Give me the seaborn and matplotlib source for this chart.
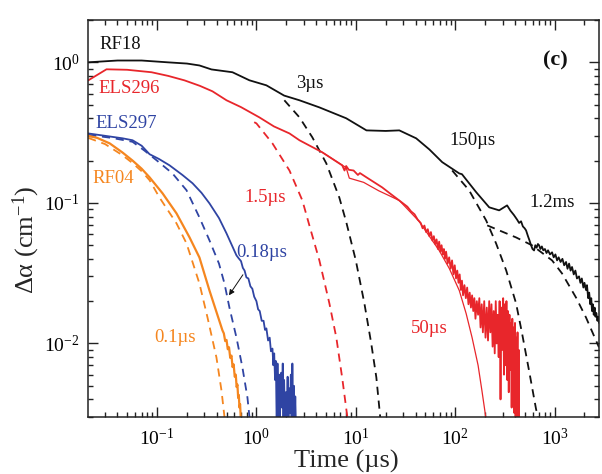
import matplotlib
matplotlib.use("Agg")
import matplotlib.pyplot as plt
import seaborn as sns

# ---------------- measured transient absorption data ----------------
rf18_t = [0.0203, 0.04, 0.07, 0.128, 0.2, 0.267, 0.353, 0.574, 0.85, 1.26, 1.9, 2.71,
          4.3, 8.0, 12.8, 20, 27.4, 40.5, 55, 74, 110, 117, 163, 220, 277, 333, 360, 390,
          420, 440, 460, 480, 500, 517, 540, 560, 580, 600, 622, 640, 660, 680, 699, 720,
          745, 770, 800, 830, 860, 900, 944, 980, 1020, 1060, 1100, 1150, 1200, 1250,
          1306, 1350, 1400, 1450, 1500, 1560, 1620, 1680, 1763, 1820, 1880, 1950, 2000,
          2073, 2120, 2180, 2230, 2290, 2340, 2381, 2430, 2480, 2530, 2580, 2630, 2700,
          2750, 2800]
rf18_a = [1.0, 1.03, 1.03, 1.0, 0.98, 0.95, 0.89, 0.85, 0.745, 0.686, 0.58, 0.537,
          0.478, 0.40, 0.328, 0.325, 0.328, 0.288, 0.24, 0.195, 0.162, 0.160, 0.119, 0.093,
          0.0885, 0.096, 0.088, 0.082, 0.076, 0.072, 0.074, 0.068, 0.066, 0.0637, 0.058,
          0.054, 0.050, 0.047, 0.0459, 0.050, 0.048, 0.051, 0.0499, 0.047, 0.049, 0.046,
          0.047, 0.044, 0.046, 0.043, 0.0445, 0.041, 0.043, 0.039, 0.041, 0.038, 0.040,
          0.036, 0.038, 0.034, 0.037, 0.033, 0.035, 0.031, 0.033, 0.029, 0.030, 0.027,
          0.029, 0.025, 0.027, 0.024, 0.026, 0.021, 0.023, 0.019, 0.021, 0.017, 0.019,
          0.016, 0.018, 0.0155, 0.0165, 0.0145, 0.0155, 0.0140]

els296_t = [0.0203, 0.031, 0.05, 0.088, 0.13, 0.189, 0.27, 0.361, 0.5, 0.7, 1.07, 1.5,
            2.15, 2.71, 3.41, 4.6, 7.3, 7.7, 8.0, 8.5, 9.5, 10.5, 11.0, 12.8, 18.4, 22, 27.4,
            30, 33, 36, 39, 42, 45, 47, 49, 51, 53, 55, 57, 59, 61, 63, 65, 67, 69, 71, 73,
            75, 77, 79, 81, 84, 87, 90, 93, 96, 99, 102, 105, 108, 111, 114, 117, 120, 124,
            128, 132, 136, 140, 144, 148, 152, 156, 160, 165, 170, 175, 180, 185, 190, 196,
            202, 208, 214, 220, 226, 232, 238, 244, 250, 256, 262, 268, 274, 280, 286, 292,
            298, 304, 310, 316, 322, 328, 334, 340, 346, 352, 358, 364, 370, 376, 382, 388,
            394, 400, 406, 412, 418, 424, 430, 436, 440]
els296_a = [0.744, 0.892, 0.885, 0.85, 0.80, 0.744, 0.68, 0.622, 0.537, 0.48, 0.406, 0.35,
            0.312, 0.279, 0.256, 0.229, 0.185, 0.170, 0.183, 0.172, 0.170, 0.158, 0.163, 0.152,
            0.129, 0.117, 0.104, 0.099, 0.094, 0.087, 0.083, 0.076, 0.072, 0.066, 0.069,
            0.062, 0.065, 0.058, 0.062, 0.054, 0.058, 0.051, 0.055, 0.047, 0.053, 0.045,
            0.050, 0.043, 0.047, 0.040, 0.045, 0.037, 0.041, 0.034, 0.039, 0.031, 0.036,
            0.029, 0.033, 0.027, 0.031, 0.024, 0.028, 0.022, 0.026, 0.021, 0.025, 0.019,
            0.023, 0.018, 0.022, 0.017, 0.021, 0.015, 0.020, 0.016, 0.021, 0.013, 0.019,
            0.012, 0.020, 0.011, 0.018, 0.0105, 0.020, 0.012, 0.019, 0.0095, 0.017, 0.0085,
            0.020, 0.010, 0.016, 0.0080, 0.020, 0.0040, 0.018, 0.0090, 0.021, 0.0060, 0.019,
            0.0070, 0.020, 0.0055, 0.017, 0.0045, 0.016, 0.0065, 0.014, 0.0035, 0.015,
            0.0050, 0.013, 0.0032, 0.014, 0.0025, 0.011, 0.0040, 0.012, 0.0020, 0.009, 0.0020]

els297_t = [0.0203, 0.03, 0.045, 0.0567, 0.07, 0.0841, 0.105, 0.1336, 0.18, 0.2275, 0.28,
            0.337, 0.42, 0.5, 0.63, 0.66, 0.70, 0.73, 0.76, 0.793, 0.83, 0.87, 0.91, 0.95,
            1.0, 1.04, 1.08, 1.13, 1.18, 1.22, 1.26, 1.31, 1.36, 1.40, 1.45, 1.48, 1.51,
            1.54, 1.57, 1.60, 1.63, 1.66, 1.69, 1.72, 1.75, 1.78, 1.81, 1.84, 1.87, 1.90,
            1.94, 1.98, 2.02, 2.06, 2.10, 2.14, 2.18, 2.22, 2.26, 2.30, 2.34, 2.38, 2.42,
            2.46, 2.50]
els297_a = [0.312, 0.30, 0.288, 0.279, 0.255, 0.222, 0.205, 0.185, 0.158, 0.138, 0.118,
            0.0992, 0.078, 0.0607, 0.0423, 0.0405, 0.0385, 0.0345, 0.0330, 0.0295, 0.0290,
            0.0255, 0.0245, 0.0215, 0.0200, 0.0175, 0.0170, 0.0145, 0.0145, 0.0125, 0.0128,
            0.0105, 0.0110, 0.0088, 0.0092, 0.0070, 0.0085, 0.0055, 0.0075, 0.0025, 0.0072,
            0.0030, 0.0060, 0.0025, 0.0050, 0.0062, 0.0035, 0.0072, 0.0028, 0.0055, 0.0025,
            0.0045, 0.0030, 0.0058, 0.0025, 0.0048, 0.0032, 0.0060, 0.0025, 0.0072, 0.0030,
            0.0050, 0.0025, 0.0042, 0.0025]

rf04_t = [0.0203, 0.025, 0.0334, 0.045, 0.0567, 0.07, 0.0841, 0.1136, 0.157, 0.2124, 0.267,
          0.337, 0.455, 0.47, 0.485, 0.50, 0.515, 0.53, 0.545, 0.561, 0.575, 0.59, 0.605,
          0.62, 0.632, 0.644, 0.655, 0.665, 0.675, 0.685, 0.695, 0.706]
rf04_a = [0.30, 0.29, 0.265, 0.228, 0.20, 0.175, 0.152, 0.117, 0.0842, 0.0568, 0.0409,
          0.0238, 0.0124, 0.0118, 0.0104, 0.0106, 0.0091, 0.0094, 0.0079, 0.0082, 0.0068,
          0.0071, 0.0058, 0.0060, 0.0049, 0.0051, 0.0041, 0.0043, 0.0035, 0.0037, 0.0030,
          0.0028]

# ---------------- fitted decays ----------------
fit_rf04_t = [0.0203, 0.03, 0.045, 0.0567, 0.07, 0.0841, 0.106, 0.157, 0.198, 0.267, 0.322,
              0.396, 0.445, 0.477]
fit_rf04_a = [0.29, 0.262, 0.218, 0.192, 0.168, 0.145, 0.109, 0.0715, 0.0515, 0.0267,
              0.0153, 0.00795, 0.00463, 0.003]

fit_els297_t = [0.0203, 0.035, 0.0567, 0.075, 0.0989, 0.143, 0.198, 0.267, 0.337, 0.42,
                0.477, 0.535, 0.63, 0.723, 0.812, 0.851]
fit_els297_a = [0.305, 0.29, 0.272, 0.235, 0.201, 0.162, 0.123, 0.0788, 0.0541, 0.037,
                0.0267, 0.018, 0.011, 0.00675, 0.00413, 0.003]

fit_els296_fast_t = [0.95, 1.0, 1.45, 2.15, 2.90, 3.41, 4.30, 5.42, 6.37, 7.32, 8.22]
fit_els296_fast_a = [0.375, 0.368, 0.265, 0.170, 0.104, 0.0692, 0.039, 0.0193, 0.011,
                     0.0056, 0.003]

fit_els296_slow_t = [4.6, 8.0, 8.6, 12, 17, 22, 27.4, 43.3, 69, 87.2, 110, 129, 148, 170,
                     186, 203]
fit_els296_slow_a = [0.229, 0.178, 0.15, 0.14, 0.122, 0.112, 0.104, 0.074, 0.0459, 0.0342,
                     0.0238, 0.0163, 0.0110, 0.0070, 0.0046, 0.0030]

fit_rf18_3us_t = [1.91, 2.71, 3.65, 5.05, 6.83, 8.03, 10.0, 12.2, 14.3, 16.1, 17.6]
fit_rf18_3us_a = [0.537, 0.406, 0.293, 0.191, 0.109, 0.0727, 0.039, 0.0193, 0.010,
                  0.00573, 0.003]

fit_rf18_150us_t = [93.3, 138, 205, 258, 326, 410, 471, 554, 652, 683]
fit_rf18_150us_a = [0.170, 0.123, 0.075, 0.0515, 0.0331, 0.0193, 0.0118, 0.0064, 0.0034,
                    0.003]

fit_rf18_1ms_t = [210, 410, 594, 944, 1189, 1645, 2073, 2612, 2800]
fit_rf18_1ms_a = [0.0692, 0.0568, 0.0499, 0.039, 0.0315, 0.0212, 0.0153, 0.0105, 0.0094]

# ---------------- styling ----------------
BLACK = "#111111"
RED = "#e8262b"
BLUE = "#2f44a3"
ORANGE = "#f5861f"

sns.set_theme(style="ticks")
plt.rcParams["font.family"] = ["Liberation Serif", "DejaVu Serif"]
plt.rcParams["mathtext.fontset"] = "custom"
plt.rcParams["mathtext.rm"] = "Liberation Serif"
plt.rcParams["mathtext.it"] = "Liberation Serif:italic"
plt.rcParams["mathtext.bf"] = "Liberation Serif:bold"

fig, ax = plt.subplots(figsize=(6.02, 4.74), dpi=100)
fig.subplots_adjust(left=0.1462, right=0.995, bottom=0.1203, top=0.9578)

dash = (0, (4.5, 3.2))

def line(t, a, color, lw, ls="-"):
    sns.lineplot(x=t, y=a, ax=ax, color=color, lw=lw, linestyle=ls,
                 estimator=None, sort=False)

# fitted curves (dashed / thin)
line(fit_rf04_t, fit_rf04_a, ORANGE, 1.3, dash)
line(fit_els297_t, fit_els297_a, BLUE, 1.3, dash)
line(fit_els296_fast_t, fit_els296_fast_a, RED, 1.3, dash)
line(fit_els296_slow_t, fit_els296_slow_a, RED, 0.9)
line(fit_rf18_3us_t, fit_rf18_3us_a, BLACK, 1.3, dash)
line(fit_rf18_150us_t, fit_rf18_150us_a, BLACK, 1.3, dash)
line(fit_rf18_1ms_t, fit_rf18_1ms_a, BLACK, 1.3, dash)

# measured curves
line(rf04_t, rf04_a, ORANGE, 1.6)
line(els297_t, els297_a, BLUE, 1.3)
line(els296_t, els296_a, RED, 1.3)
line(rf18_t, rf18_a, BLACK, 1.3)

ax.set_xscale("log")
ax.set_yscale("log")
ax.set_xlim(0.0202, 2800)
ax.set_ylim(0.003, 2.0)

ax.tick_params(which="both", direction="in", top=True, right=True, width=1.0,
               colors="#222222", labelcolor="black", labelsize=14)
ax.tick_params(axis="x", which="both", pad=8)
ax.tick_params(axis="y", which="both", pad=6)
ax.tick_params(which="major", length=7)
ax.tick_params(which="minor", length=3.5)
for s in ax.spines.values():
    s.set_linewidth(1.1)
    s.set_color("#222222")

ax.set_xlabel("Time (µs)", fontsize=19)
ax.set_ylabel("Δα (cm$^{-1}$)", fontsize=19)
ax.xaxis.set_label_coords(0.506, -0.082)
ax.yaxis.set_label_coords(-0.09, 0.446)

# curve labels
fs = 13.5
ax.text(0.0264, 1.34, "RF18", color=BLACK, fontsize=fs, ha="left", va="center")
ax.text(0.0259, 0.653, "ELS296", color=RED, fontsize=fs, ha="left", va="center")
ax.text(0.0241, 0.368, "ELS297", color=BLUE, fontsize=fs, ha="left", va="center")
ax.text(0.0226, 0.149, "RF04", color=ORANGE, fontsize=fs, ha="left", va="center")
ax.text(2.53, 0.709, "3µs", color=BLACK, fontsize=fs, ha="left", va="center")
ax.text(0.758, 0.109, "1.5µs", color=RED, fontsize=fs, ha="left", va="center")
ax.text(87, 0.279, "150µs", color=BLACK, fontsize=fs, ha="left", va="center")
ax.text(554, 0.101, "1.2ms", color=BLACK, fontsize=fs, ha="left", va="center")
ax.text(0.63, 0.0444, "0.18µs", color=BLUE, fontsize=fs, ha="left", va="center")
ax.text(0.0945, 0.011, "0.1µs", color=ORANGE, fontsize=fs, ha="left", va="center")
ax.text(36.1, 0.0128, "50µs", color=RED, fontsize=fs, ha="left", va="center")
ax.text(1012, 1.03, "(c)", color=BLACK, fontsize=16, fontweight="bold",
        ha="center", va="center")

ax.annotate("", xy=(0.511, 0.0212), xytext=(0.758, 0.032),
            arrowprops=dict(arrowstyle="-|>", color=BLACK, lw=0.7, mutation_scale=8))

fig.savefig("out.png", dpi=100)
